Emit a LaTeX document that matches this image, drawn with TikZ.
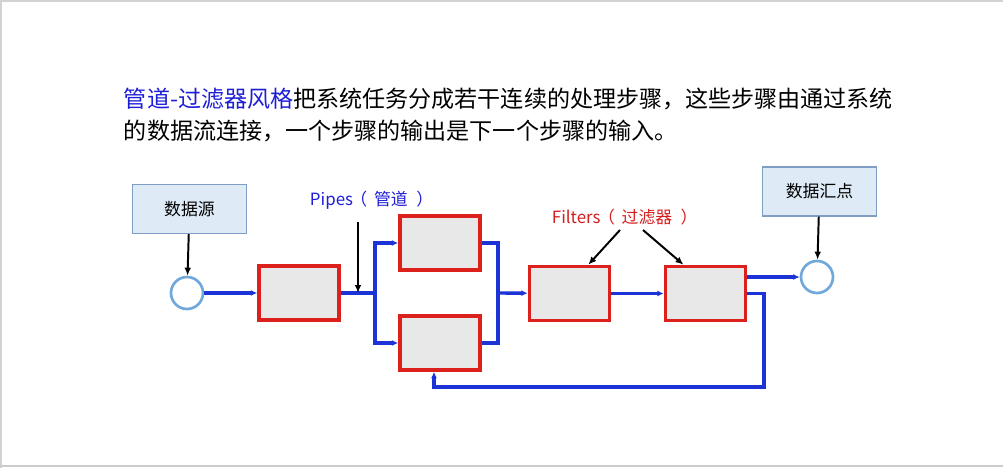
\documentclass[tikz,border=0pt]{standalone}
\usepackage{fontspec}
\setmainfont{Noto Sans CJK SC}
\usetikzlibrary{arrows.meta,positioning,calc}
\definecolor{pipeblue}{RGB}{28,52,214}
\definecolor{filterred}{RGB}{220,32,28}
\definecolor{boxgray}{RGB}{232,232,232}
\definecolor{dsfill}{RGB}{222,234,245}
\definecolor{dsdraw}{RGB}{128,158,196}
\definecolor{ringblue}{RGB}{112,168,218}
\definecolor{txtblue}{RGB}{30,30,215}
\definecolor{txtred}{RGB}{215,30,30}
\newcommand{\opar}{\hspace{-0.15em}（\hspace{0.4em}}
\newcommand{\cpar}{\hspace{0.5em}）}
\tikzset{
  filterbox/.style={draw=filterred, fill=boxgray, line width=2.5pt,
    minimum width=2.0cm, minimum height=1.35cm, inner sep=0pt},
  storebox/.style={draw=dsdraw, fill=dsfill, line width=1pt,
    minimum width=2.85cm, minimum height=1.22cm, font=\fontsize{12}{14}\selectfont},
  endpt/.style={circle, draw=ringblue, fill=white, line width=1.9pt,
    minimum size=0.8cm, inner sep=0pt},
  pipe/.style={draw=pipeblue, line width=2.4pt},
  flow/.style={pipe, -{Latex[length=1.6mm,width=1.5mm]}},
  pointer/.style={draw=black, line width=1.4pt, -{Latex[length=2mm,width=1.7mm]}},
  tag/.style={anchor=west, font=\fontsize{12}{14}\selectfont}
}

\begin{document}
\begin{tikzpicture}[x=0.025cm, y=-0.025cm]

\useasboundingbox (0,0) rectangle (1003,468);
\draw[gray!35, line width=1.2pt] (1,468) -- (1,1) -- (1003,1);
\draw[gray!40, line width=1.5pt] (0,466) -- (1003,466);

\node[anchor=base west, font=\fontsize{16.4}{22}\selectfont] (line1) at (119,107)
  {\textcolor{txtblue}{管道-过滤器风格}把系统任务分成若干连续的处理步骤，这些步骤由通过系统};
\node[anchor=base west, font=\fontsize{16.4}{22}\selectfont] (line2) at (119,139)
  {的数据流连接，一个步骤的输出是下一个步骤的输入。};

\node[storebox] (srcbox) at (189.5,209) {数据源};
\node[storebox] (sinkbox) at (819.5,191.5) {数据汇点};
\node[endpt] (src) at (187,293) {};
\node[endpt] (sink) at (817,277) {};

\node[filterbox] (f1) at (299,293) {};
\node[filterbox] (f2) at (440,243) {};
\node[filterbox] (f3) at (440,343) {};
\node[filterbox] (f4) at (569.5,293.5) {};
\node[filterbox] (f5) at (705.5,293.5) {};

\node[tag, text=txtblue] (pipeslbl) at (305,200) {Pipes\opar 管道\cpar};
\node[tag, text=txtred] (filterslbl) at (547,217) {Filters\opar 过滤器\cpar};

\draw[pointer] (srcbox) -- (src);
\draw[pointer] (sinkbox) -- (sink);

\coordinate (split) at (375,293);
\coordinate (merge) at (498,293);
\coordinate (back) at (764,387);
\coordinate (pipetop) at (358,222);
\coordinate (ftl) at (620,230);
\coordinate (ftr) at (643,230);

\draw[flow] (src) -- (f1);
\draw[pipe] (f1) -- (split);
\draw[flow] (split) |- (f2);
\draw[flow] (split) |- (f3);
\draw[pipe] (f2) -| (merge);
\draw[pipe] (f3) -| (merge);
\draw[flow] (merge) -- (f4);
\draw[flow] (f4) -- (f5);
\draw[flow] (f5.east |- sink) -- (sink);
\draw[flow] (f5.east) -| (back) -| ([xshift=-0.15cm]f3.south);

\draw[pointer] (pipetop) -- (pipetop |- f1);
\draw[pointer] (ftl) -- ([xshift=0.47cm]f4.north);
\draw[pointer] (ftr) -- ([xshift=-0.55cm]f5.north);

\end{tikzpicture}
\end{document}
